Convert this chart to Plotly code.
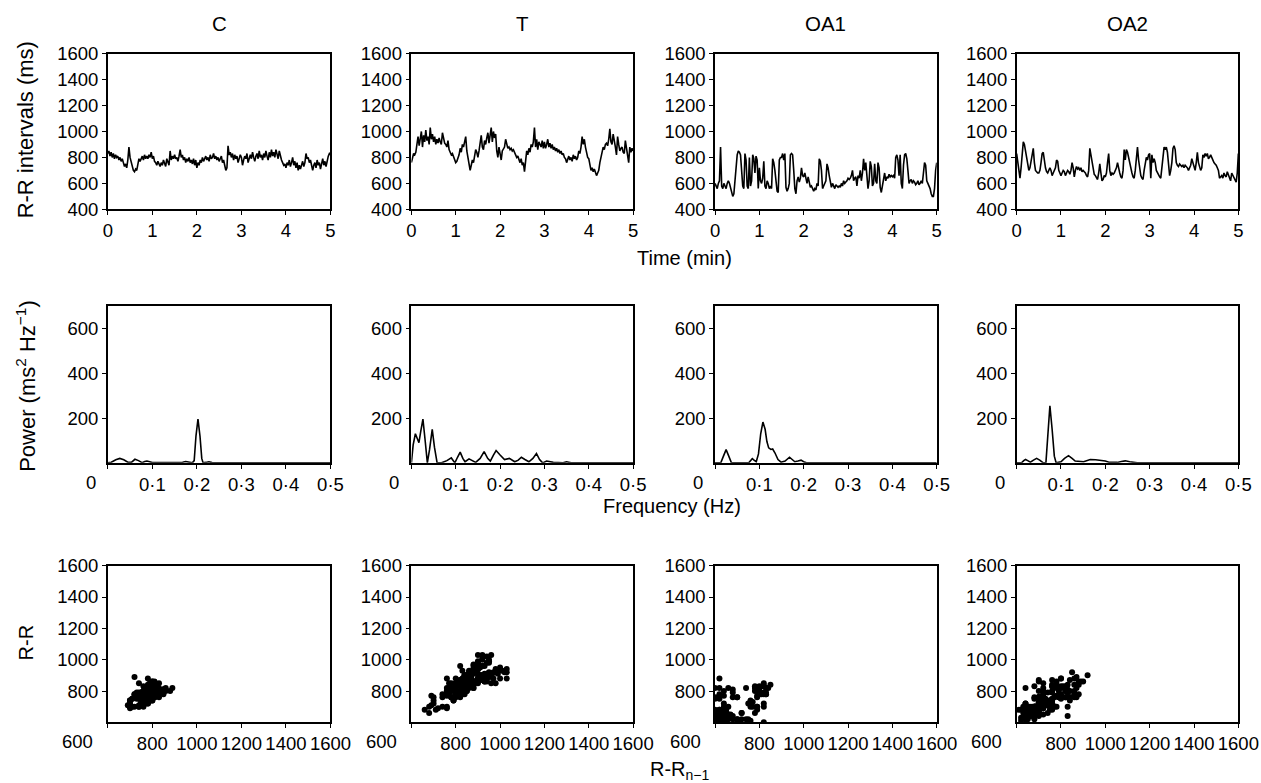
import numpy as np
import plotly.graph_objects as go

# ---------------- data ----------------
conditions = ["C", "T", "OA1", "OA2"]

rr_C = [
    830, 850, 810, 840, 800, 830, 790, 820, 800, 810, 780, 800, 770, 790, 760, 730, 750, 720, 780, 880,
    800, 760, 740, 700, 690, 710, 700, 740, 790, 770, 800, 810, 780, 820, 790, 810, 790, 820, 800, 840,
    790, 810, 770, 760, 740, 770, 750, 730, 760, 740, 780, 760, 730, 790, 760, 740, 850, 780, 810, 790,
    820, 790, 800, 770, 810, 860, 800, 820, 780, 800, 760, 790, 770, 800, 760, 780, 750, 790, 740, 780,
    720, 760, 740, 780, 760, 800, 770, 790, 810, 780, 800, 770, 820, 790, 800, 830, 790, 810, 780, 800,
    770, 790, 810, 760, 780, 740, 700, 720, 890, 820, 840, 800, 830, 780, 820, 790, 810, 760, 790, 820,
    800, 740, 780, 810, 790, 830, 760, 800, 820, 790, 840, 800, 770, 810, 830, 790, 850, 800, 820, 780,
    830, 800, 850, 810, 780, 840, 800, 860, 810, 840, 800, 860, 820, 790, 850, 810, 780, 760, 740, 750,
    720, 760, 740, 780, 730, 760, 800, 740, 770, 720, 760, 700, 740, 710, 750, 770, 730, 760, 830, 790,
    800, 760, 780, 720, 700, 740, 760, 720, 780, 740, 760, 710, 750, 790, 740, 770, 730, 780, 810, 830,
    820]

rr_T = [
    760, 800, 830, 820, 840, 900, 960, 890, 950, 1000, 880, 970, 920, 1010, 930, 960, 900, 1030, 940, 980,
    920, 960, 900, 940, 910, 950, 920, 900, 990, 930, 910, 900, 880, 930, 860, 840, 820, 830, 800, 780,
    760, 770, 790, 820, 870, 840, 900, 880, 920, 960, 850, 800, 760, 700, 740, 780, 760, 820, 860, 840,
    800, 850, 900, 970, 880, 860, 930, 900, 950, 990, 910, 960, 1030, 920, 1000, 950, 980, 850, 800, 880,
    840, 780, 850, 870, 880, 940, 900, 870, 880, 860, 870, 850, 860, 840, 830, 800, 810, 780, 760, 790,
    740, 760, 690, 770, 850, 820, 870, 840, 900, 880, 920, 1030, 880, 940, 860, 920, 900, 880, 930, 870,
    920, 870, 900, 940, 880, 910, 870, 900, 860, 880, 850, 870, 840, 860, 830, 850, 820, 830, 800, 790,
    760, 790, 810, 780, 800, 770, 820, 790, 810, 780, 800, 850, 830, 880, 960, 900, 940, 880, 820, 800,
    790, 740, 700, 720, 690, 710, 680, 660, 680, 700, 760, 800, 850, 880, 860, 900, 910, 890, 940, 1020,
    920, 900, 980, 940, 880, 820, 960, 900, 850, 870, 880, 840, 830, 930, 860, 820, 760, 880, 840, 870,
    850]

rr_OA1 = [
    600, 570, 560, 600, 620, 880, 580, 560, 600, 580, 560, 600, 620, 600, 560, 520, 500, 520, 620, 780,
    820, 850, 840, 820, 720, 580, 560, 830, 780, 580, 560, 800, 580, 620, 820, 790, 680, 810, 780, 560,
    720, 620, 600, 640, 770, 580, 560, 620, 600, 560, 580, 560, 790, 760, 700, 580, 540, 530, 780, 800,
    800, 830, 780, 830, 570, 540, 560, 600, 820, 830, 820, 700, 560, 520, 620, 650, 610, 640, 720, 660,
    650, 680, 640, 600, 650, 620, 570, 580, 560, 540, 560, 550, 600, 580, 790, 770, 700, 560, 580, 600,
    620, 750, 720, 660, 620, 570, 600, 580, 560, 590, 580, 570, 580, 570, 600, 580, 620, 600, 610, 620,
    640, 630, 640, 660, 700, 620, 640, 650, 580, 660, 640, 700, 620, 680, 790, 700, 760, 610, 560, 620,
    770, 730, 580, 600, 750, 620, 600, 760, 720, 570, 530, 580, 620, 680, 620, 650, 640, 670, 650, 660,
    650, 660, 640, 800, 820, 780, 660, 820, 600, 560, 740, 820, 830, 790, 700, 600, 620, 630, 600, 620,
    610, 590, 600, 620, 590, 600, 620, 600, 680, 760, 740, 620, 600, 580, 560, 520, 500, 500, 560, 700,
    760]

rr_OA2 = [
    830, 760, 680, 640, 720, 850, 920, 900, 860, 800, 750, 700, 720, 780, 840, 870, 760, 700, 690, 680,
    680, 700, 760, 830, 840, 760, 720, 690, 680, 700, 720, 700, 660, 680, 700, 720, 780, 770, 700, 680,
    660, 680, 700, 690, 660, 680, 700, 690, 670, 700, 760, 720, 650, 700, 730, 710, 720, 700, 720, 690,
    700, 690, 680, 660, 650, 700, 870, 820, 760, 690, 670, 660, 640, 630, 680, 750, 680, 620, 630, 660,
    650, 680, 760, 830, 700, 660, 680, 670, 680, 700, 720, 760, 700, 680, 650, 640, 700, 860, 780, 860,
    840, 800, 760, 700, 680, 650, 640, 700, 800, 880, 780, 700, 660, 640, 630, 700, 760, 800, 780, 820,
    830, 640, 820, 760, 790, 760, 700, 680, 660, 650, 640, 720, 800, 880, 860, 880, 840, 740, 660, 700,
    760, 870, 890, 860, 760, 740, 730, 750, 740, 730, 740, 720, 740, 730, 720, 700, 720, 740, 790, 760,
    720, 700, 760, 840, 760, 720, 700, 720, 820, 800, 830, 810, 830, 790, 800, 820, 800, 770, 760, 750,
    740, 720, 700, 640, 650, 660, 640, 680, 660, 650, 690, 660, 640, 620, 680, 660, 650, 620, 610, 680,
    830]

freq_C = [0, 0.008, 0.018, 0.027, 0.036, 0.045, 0.053, 0.061, 0.069, 0.077, 0.083, 0.088, 0.094, 0.1,
          0.13, 0.16, 0.168, 0.175, 0.182, 0.19, 0.194, 0.198, 0.2025, 0.207, 0.211, 0.214, 0.22, 0.227,
          0.234, 0.26, 0.5]
pow_C = [0, 3, 14, 20, 14, 3, 2, 16, 10, 1, 6, 8, 5, 1,
         1, 0, 3, 6, 3, 0, 10, 120, 195, 120, 20, 0, 2, 5,
         1, 0, 0]

freq_T = [0, 0.004, 0.009, 0.013, 0.017, 0.021, 0.026, 0.031, 0.036, 0.041, 0.047, 0.052, 0.058, 0.068,
          0.08, 0.09, 0.098, 0.104, 0.11, 0.116, 0.121, 0.13, 0.138, 0.145, 0.155, 0.164, 0.172, 0.178,
          0.185, 0.191, 0.2, 0.21, 0.221, 0.233, 0.241, 0.248, 0.256, 0.265, 0.274, 0.282, 0.289, 0.296,
          0.305, 0.32, 0.342, 0.35, 0.36, 0.4, 0.5]
pow_T = [0, 80, 130, 110, 90, 140, 195, 100, 0, 60, 150, 70, 0, 0,
         10, 22, 0, 25, 48, 20, 5, 18, 8, 2, 20, 50, 20, 8,
         35, 55, 35, 15, 20, 5, 12, 25, 15, 5, 20, 42, 15, 0,
         8, 2, 0, 5, 0, 0, 0]

freq_OA1 = [0, 0.013, 0.019, 0.025, 0.031, 0.037, 0.05, 0.076, 0.081, 0.084, 0.088, 0.093, 0.098, 0.103,
            0.108, 0.113, 0.117, 0.121, 0.126, 0.13, 0.135, 0.142, 0.149, 0.158, 0.168, 0.175, 0.18,
            0.187, 0.194, 0.2, 0.206, 0.22, 0.5]
pow_OA1 = [0, 0, 30, 59, 30, 0, 0, 0, 12, 19, 12, 5, 40, 130,
           182, 150, 95, 67, 60, 62, 45, 15, 3, 8, 25, 15, 5,
           8, 12, 5, 0, 0, 0]

freq_OA2 = [0, 0.011, 0.016, 0.02, 0.025, 0.031, 0.038, 0.045, 0.052, 0.06, 0.066, 0.07, 0.075, 0.08,
            0.085, 0.089, 0.1, 0.108, 0.117, 0.125, 0.132, 0.151, 0.16, 0.166, 0.178, 0.189, 0.2,
            0.208, 0.227, 0.236, 0.245, 0.255, 0.272, 0.5]
pow_OA2 = [0, 0, 10, 15, 10, 3, 12, 20, 12, 0, 0, 120, 255, 150,
           30, 0, 5, 20, 32, 20, 8, 5, 10, 15, 14, 12, 8,
           3, 2, 6, 9, 5, 0, 0]

rr_series = [rr_C, rr_T, rr_OA1, rr_OA2]
spectra = [(freq_C, pow_C), (freq_T, pow_T), (freq_OA1, pow_OA1), (freq_OA2, pow_OA2)]

time_ticks = [0, 1, 2, 3, 4, 5]
rr_ticks = [400, 600, 800, 1000, 1200, 1400, 1600]
freq_ticks = [0, 0.1, 0.2, 0.3, 0.4, 0.5]
freq_ticktext = ["", "0·1", "0·2", "0·3", "0·4", "0·5"]
pow_ticks = [200, 400, 600]
poin_xticks = [600, 800, 1000, 1200, 1400, 1600]
poin_xticktext = ["", "800", "1000", "1200", "1400", "1600"]
poin_yticks = [800, 1000, 1200, 1400, 1600]

# ---------------- layout geometry (target pixels, with page-scale correction) ----------------
W, H = 1261, 783
col_px = [(107, 330), (411, 633), (715, 937), (1017, 1239)]
row_px = [(52, 208), (305, 462), (565, 722)]
SX, AX = 0.9806, 4.1
SY, AY = 0.975, 9.3

def fx(p):
    return ((p - AX) / SX) / W

def fy(p):
    return 1 - ((p - AY) / SY) / H

FONT = "Liberation Sans, Arial, Helvetica, sans-serif"
tickfont = dict(family=FONT, size=18.5, color="black")

fig = go.Figure()
layout = dict(width=W, height=H, margin=dict(l=0, r=0, t=0, b=0),
              paper_bgcolor="white", plot_bgcolor="white", showlegend=False,
              font=dict(family=FONT, color="black"))

def axis_common():
    return dict(showline=True, linecolor="black", linewidth=1.5, mirror=True,
                ticks="outside", ticklen=4, tickwidth=1.2, tickcolor="black",
                showgrid=False, zeroline=False, tickfont=tickfont, fixedrange=True)

annotations = []
n = 0
for r in range(3):
    for c in range(4):
        n += 1
        xa = "xaxis" if n == 1 else f"xaxis{n}"
        ya = "yaxis" if n == 1 else f"yaxis{n}"
        xr = "x" if n == 1 else f"x{n}"
        yr = "y" if n == 1 else f"y{n}"
        xd = [fx(col_px[c][0]), min(1.0, fx(col_px[c][1]))]
        yd = [max(0.0, fy(row_px[r][1])), min(1.0, fy(row_px[r][0]))]
        xdict = axis_common()
        ydict = axis_common()
        xdict.update(domain=xd, anchor=yr)
        ydict.update(domain=yd, anchor=xr)
        if r == 0:
            series = rr_series[c]
            t = np.linspace(0, 5, len(series))
            fig.add_trace(go.Scatter(x=t, y=series, mode="lines",
                                     line=dict(color="black", width=1.6),
                                     xaxis=xr, yaxis=yr, hoverinfo="skip"))
            xdict.update(range=[0, 5], tickvals=time_ticks)
            ydict.update(range=[400, 1600], tickvals=rr_ticks)
        elif r == 1:
            f, p = spectra[c]
            fig.add_trace(go.Scatter(x=f, y=p, mode="lines",
                                     line=dict(color="black", width=1.6),
                                     xaxis=xr, yaxis=yr, hoverinfo="skip"))
            xdict.update(range=[0, 0.5], tickvals=freq_ticks, ticktext=freq_ticktext)
            ydict.update(range=[0, 700], tickvals=pow_ticks)
            annotations.append(dict(text="0", x=0, xref=xr, y=0, yref=f"{yr} domain",
                                    xshift=-17, yshift=-7, yanchor="top", xanchor="center",
                                    showarrow=False, font=tickfont))
        else:
            series = rr_series[c]
            fig.add_trace(go.Scatter(x=series[:-1], y=series[1:], mode="markers",
                                     marker=dict(color="black", size=6),
                                     xaxis=xr, yaxis=yr, hoverinfo="skip"))
            xdict.update(range=[600, 1600], tickvals=poin_xticks, ticktext=poin_xticktext)
            ydict.update(range=[600, 1600], tickvals=poin_yticks)
            annotations.append(dict(text="600", x=600, xref=xr, y=0, yref=f"{yr} domain",
                                    xshift=-30, yshift=-7, yanchor="top", xanchor="center",
                                    showarrow=False, font=tickfont))
        layout[xa] = xdict
        layout[ya] = ydict

# column titles
for c, name in enumerate(conditions):
    annotations.append(dict(text=name, x=fx((col_px[c][0] + col_px[c][1]) / 2), xref="paper",
                            y=fy(22), yref="paper", xanchor="center", yanchor="middle",
                            showarrow=False, font=dict(family=FONT, size=20.5, color="black")))

# axis titles
lab = dict(family=FONT, size=20, color="black")
vlab = dict(family=FONT, size=22, color="black")
titles = [
    ("R-R intervals (ms)", 25, 128, -90, vlab),
    ("Time (min)", 684, 257, 0, lab),
    ("Power (ms<sup>2</sup> Hz<sup>−1</sup>)", 25, 385, -90, vlab),
    ("Frequency (Hz)", 672, 505, 0, lab),
    ("R-R", 25, 642, -90, dict(family=FONT, size=20, color="black")),
    ("R-R<sub>n−1</sub>", 680, 770, 0, lab),
]
for text, px_x, px_y, ang, fnt in titles:
    annotations.append(dict(text=text, x=fx(px_x), y=fy(px_y), xref="paper", yref="paper",
                            xanchor="center", yanchor="middle", textangle=ang,
                            showarrow=False, font=fnt))

layout["annotations"] = annotations
fig.update_layout(**layout)
fig.write_html("out.html", config={"displayModeBar": False},
               post_script="document.body.style.margin='0';document.body.style.overflow='hidden';")
